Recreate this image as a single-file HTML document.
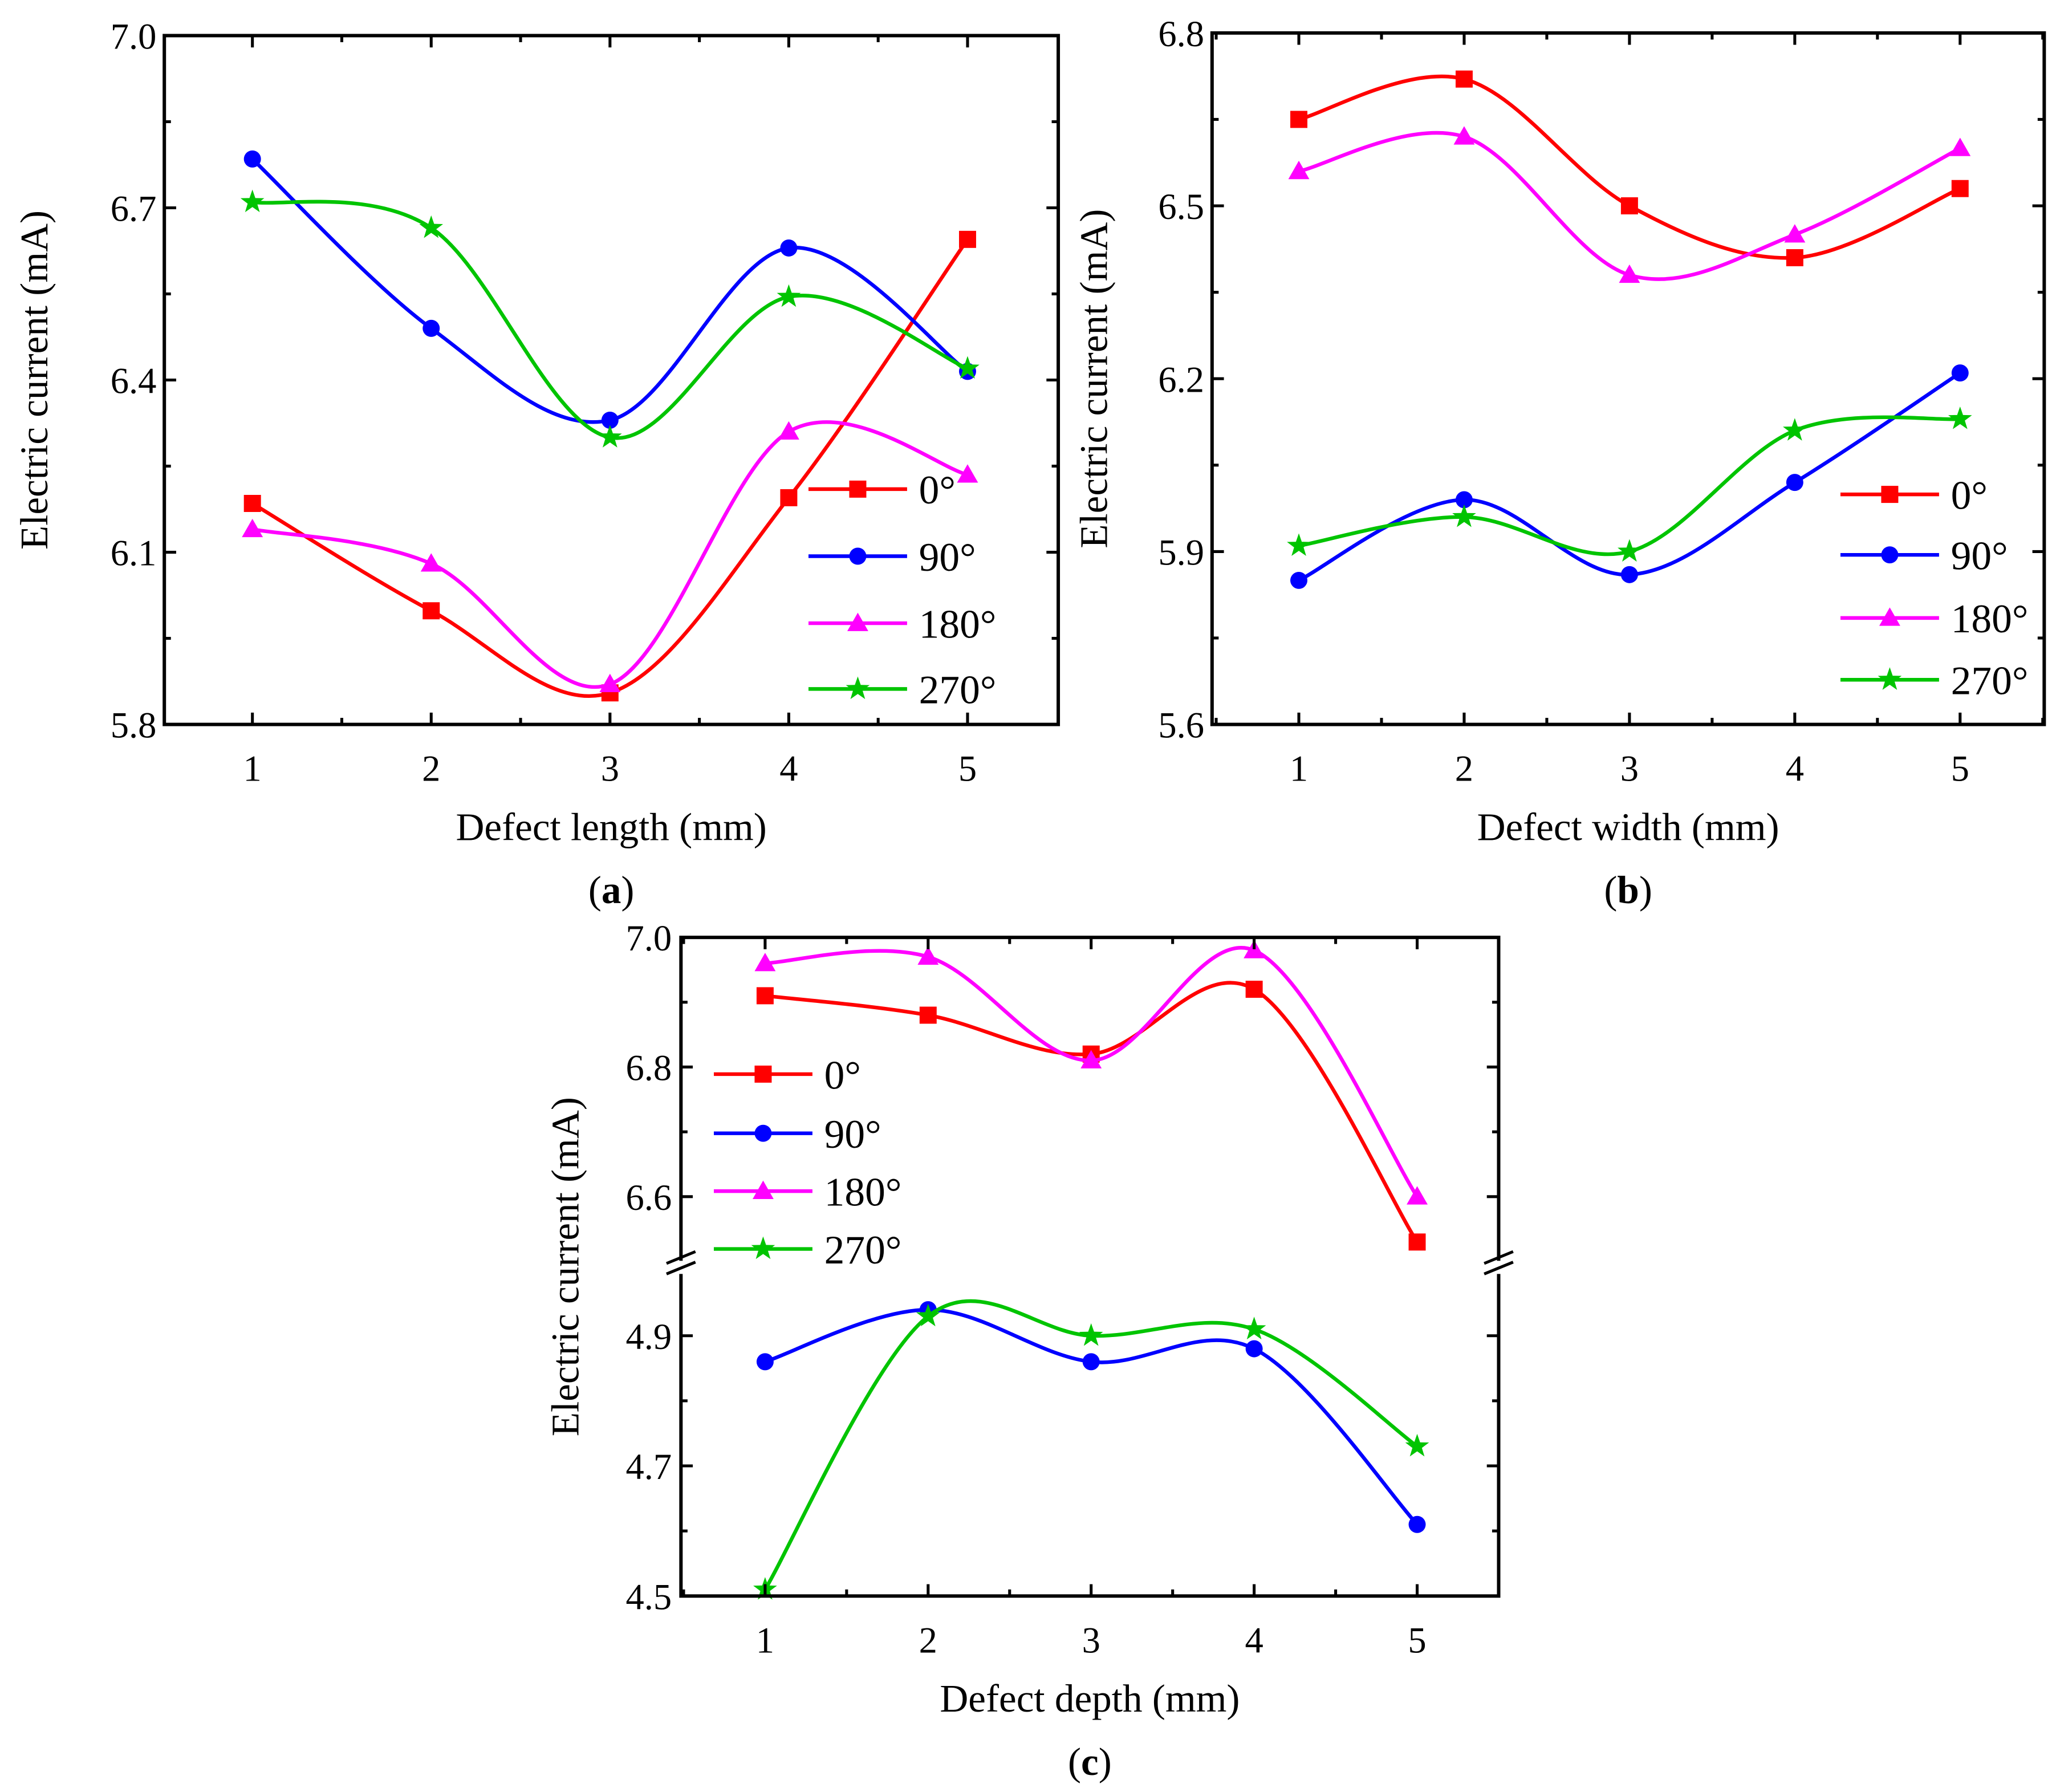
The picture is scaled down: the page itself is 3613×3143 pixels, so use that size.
<!DOCTYPE html>
<html><head><meta charset="utf-8"><style>
html,body{margin:0;padding:0;background:#fff}
svg{display:block}
text{font-family:"Liberation Serif","Times New Roman",serif;fill:#000}
</style></head><body>
<svg id="fig" width="3613" height="3143" viewBox="0 0 1567 1363" xmlns="http://www.w3.org/2000/svg" font-family="Liberation Serif, serif">
</svg>
<script>
// ---- data ----
const xCats = [1,2,3,4,5];
const seriesNames = ["0°","90°","180°","270°"];
const aZero = [6.185,5.998,5.855,6.195,6.645];
const aNinety = [6.785,6.49,6.33,6.63,6.415];
const aOneEighty = [6.14,6.08,5.87,6.31,6.235];
const aTwoSeventy = [6.71,6.665,6.30,6.545,6.42];
const aYTicks = [5.8,6.1,6.4,6.7,7.0];
const bZero = [6.65,6.72,6.50,6.41,6.53];
const bNinety = [5.85,5.99,5.86,6.02,6.21];
const bOneEighty = [6.56,6.62,6.38,6.45,6.60];
const bTwoSeventy = [5.91,5.96,5.90,6.11,6.13];
const bYTicks = [5.6,5.9,6.2,6.5,6.8];
const cZero = [6.91,6.88,6.82,6.92,6.53];
const cNinety = [4.86,4.94,4.86,4.88,4.61];
const cOneEighty = [6.96,6.97,6.81,6.98,6.60];
const cTwoSeventy = [4.51,4.93,4.90,4.91,4.73];
const cYTicksUpper = [6.6,6.8,7.0];
const cYTicksLower = [4.5,4.7,4.9];

const NS="http://www.w3.org/2000/svg";
const svg=document.getElementById('fig');
const colors=["#ff0000","#0000ff","#ff00ff","#00c400"];
const markers=["square","circle","triangle","star"];
const FS_TICK=28, FS_TITLE=30, FS_LEG=31;
function el(tag,attrs,parent){const e=document.createElementNS(NS,tag);for(const k in attrs)e.setAttribute(k,attrs[k]);(parent||svg).appendChild(e);return e;}
function txt(x,y,s,size,anchor,parent,name){const t=el('text',{x:x,y:y,'font-size':size,'text-anchor':anchor||'middle','font-family':'Liberation Serif, serif'},parent);t.textContent=s;


return t;}
function spline(pts){let d="M"+pts[0][0]+","+pts[0][1];
 for(let i=0;i<pts.length-1;i++){const p0=pts[i-1]||pts[i],p1=pts[i],p2=pts[i+1],p3=pts[i+2]||pts[i+1];
  const c1=[p1[0]+(p2[0]-p0[0])/6,p1[1]+(p2[1]-p0[1])/6],c2=[p2[0]-(p3[0]-p1[0])/6,p2[1]-(p3[1]-p1[1])/6];
  d+=` C${c1[0]},${c1[1]} ${c2[0]},${c2[1]} ${p2[0]},${p2[1]}`;}
 return d;}
function marker(type,x,y,color,parent){let m;
 if(type==="square")m=el('rect',{x:x-6.5,y:y-6.5,width:13,height:13,fill:color},parent);
 else if(type==="circle")m=el('circle',{cx:x,cy:y,r:6.5,fill:color},parent);
 else if(type==="triangle")m=el('polygon',{points:`${x},${y-8} ${x+8},${y+6} ${x-8},${y+6}`,fill:color},parent);
 else {let p=[];for(let i=0;i<10;i++){const r=i%2?3.8:9.5,a=-Math.PI/2+i*Math.PI/5;p.push((x+r*Math.cos(a)).toFixed(2)+","+(y+r*Math.sin(a)).toFixed(2));}
  m=el('polygon',{points:p.join(' '),fill:color},parent);}
 
 
 return m;}

function panel(cfg){
 const g=el('g',{});
 
 
 const {L,R,T,B,x1,x5}=cfg;
 const xs=v=>x1+(v-1)*(x5-x1)/4;
 const ys=cfg.ys;
 cfg.series.forEach((vals,si)=>{
  const pts=vals.map((v,i)=>[xs(xCats[i]),ys(v)]);
  const p=el('path',{d:spline(pts),fill:'none',stroke:colors[si],'stroke-width':2.8},g);
  
  
  pts.forEach(q=>marker(markers[si],q[0],q[1],colors[si],g));
 });
 const f=el('rect',{x:L,y:T,width:R-L,height:B-T,fill:'none',stroke:'#000','stroke-width':2.6},g);
 
 
 for(let v=0.5;v<=5.5;v+=0.5){const x=xs(v);if(x<=L+1||x>=R-1)continue;const len=(v%1===0)?9:5;
  const t1=el('line',{x1:x,y1:B,x2:x,y2:B-len,stroke:'#000','stroke-width':2.2},g);
  
  
  const t2=el('line',{x1:x,y1:T,x2:x,y2:T+len,stroke:'#000','stroke-width':2.2},g);
  
  
 }
 xCats.forEach(c=>txt(xs(c),B+43,String(c),FS_TICK,'middle',g,'x-tick-label'));
 cfg.yTicks.forEach((tk,i)=>{
  const y=ys(tk);
  [[L,L+9],[R,R-9]].forEach(s=>{const t=el('line',{x1:s[0],y1:y,x2:s[1],y2:y,stroke:'#000','stroke-width':2.2},g);
   
   });
  txt(L-6,y+10,tk.toFixed(1),FS_TICK,'end',g,'y-tick-label');
  if(cfg.minorStep && i<cfg.yTicks.length-1){const ym=ys(tk+cfg.minorStep);
   [[L,L+5],[R,R-5]].forEach(s=>{const t=el('line',{x1:s[0],y1:ym,x2:s[1],y2:ym,stroke:'#000','stroke-width':2.2},g);
    
    });}
 });
 const yl=txt(0,0,'Electric current (mA)',FS_TITLE,'middle',g,'y-axis-title');
 yl.setAttribute('transform',`translate(${cfg.ylx},${(T+B)/2}) rotate(-90)`);
 txt((L+R)/2,B+88,cfg.xTitle,FS_TITLE,'middle',g,'x-axis-title');
 const cap=el('text',{x:(L+R)/2,y:B+136,'font-size':FS_TITLE,'text-anchor':'middle','font-family':'Liberation Serif, serif'},g);
 
 
 cap.innerHTML='(<tspan font-weight="bold">'+cfg.letter+'</tspan>)';
 cfg.legY.forEach((ly,i)=>{
  const ln=el('line',{x1:cfg.legX,y1:ly,x2:cfg.legX+75,y2:ly,stroke:colors[i],'stroke-width':2.8},g);
  
  
  marker(markers[i],cfg.legX+37.5,ly,colors[i],g);
  txt(cfg.legX+84,ly+11,seriesNames[i],FS_LEG,'start',g,'legend-entry');
 });
 return g;
}

panel({name:'panel-a',L:125,R:805,T:27,B:551,x1:192,x5:736,
 ys:v=>551-(v-5.8)*(524/1.2),yTicks:aYTicks,minorStep:0.15,
 series:[aZero,aNinety,aOneEighty,aTwoSeventy],xTitle:'Defect length (mm)',letter:'a',ylx:36,
 legX:615,legY:[372,423,474,524]});
panel({name:'panel-b',L:922,R:1555,T:25,B:551,x1:988,x5:1491,
 ys:v=>551-(v-5.6)*(526/1.2),yTicks:bYTicks,minorStep:0.15,
 series:[bZero,bNinety,bOneEighty,bTwoSeventy],xTitle:'Defect width (mm)',letter:'b',ylx:842,
 legX:1400,legY:[376,422,470,517]});
const cys=v=> v>5.5 ? 713+(7.0-v)*493 : 1214-(v-4.5)*495;
const gc=panel({name:'panel-c',L:518,R:1140,T:713,B:1214,x1:582,x5:1078,
 ys:cys,yTicks:[],minorStep:0,
 series:[cZero,cNinety,cOneEighty,cTwoSeventy],xTitle:'Defect depth (mm)',letter:'c',ylx:440,
 legX:543,legY:[817,862,906,950]});
[...cYTicksUpper,...cYTicksLower].forEach(tk=>{const y=cys(tk);
 [[518,527],[1140,1131]].forEach(s=>{const t=el('line',{x1:s[0],y1:y,x2:s[1],y2:y,stroke:'#000','stroke-width':2.2},gc);
  
  });
 txt(511,y+10,tk.toFixed(1),FS_TICK,'end',gc,'y-tick-label');});
[6.7,6.9,4.6,4.8].forEach(v=>{const y=cys(v);[[518,523],[1140,1135]].forEach(s=>{const t=el('line',{x1:s[0],y1:y,x2:s[1],y2:y,stroke:'#000','stroke-width':2.2},gc);
  
  });});
[518,1140].forEach(x=>{
 const w=el('rect',{x:x-3,y:959,width:6,height:10,fill:'#fff'},gc);
 
 
 [0,8].forEach(o=>{const l=el('line',{x1:x-11,y1:961+o,x2:x+11,y2:952+o,stroke:'#000','stroke-width':2.2},gc);
  
  });
});
</script>
</body></html>
